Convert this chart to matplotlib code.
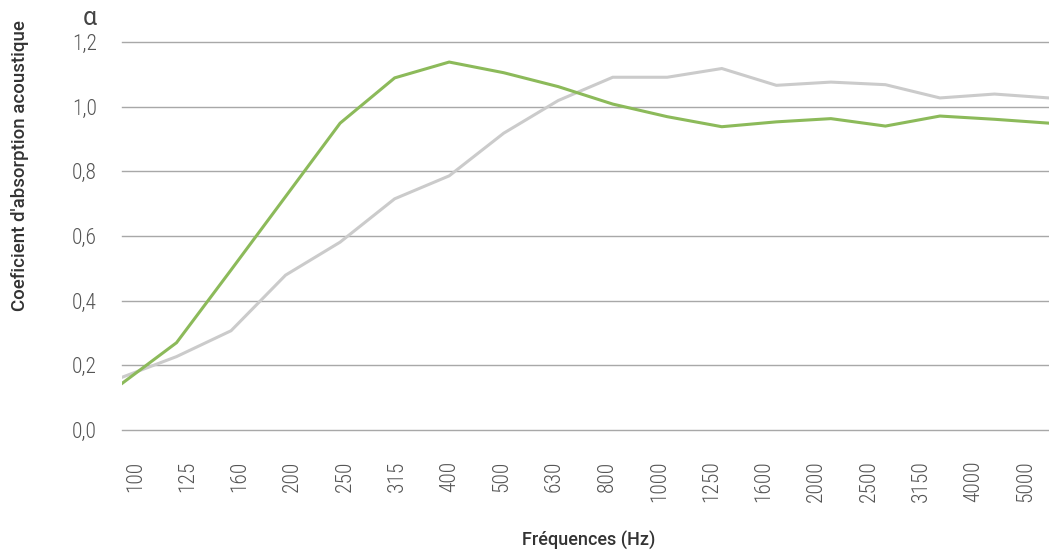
import matplotlib
matplotlib.use("Agg")
import matplotlib.pyplot as plt

# third-octave bands (Hz)
freqs = ["100", "125", "160", "200", "250", "315", "400", "500", "630", "800",
         "1000", "1250", "1600", "2000", "2500", "3150", "4000", "5000"]

green_alpha = [0.144, 0.270, 0.495, 0.722, 0.949, 1.089, 1.138, 1.105, 1.062,
               1.008, 0.969, 0.938, 0.953, 0.963, 0.940, 0.971, 0.961, 0.949]
grey_alpha = [0.163, 0.227, 0.307, 0.479, 0.581, 0.715, 0.786, 0.918, 1.019,
              1.091, 1.091, 1.118, 1.066, 1.076, 1.068, 1.027, 1.039, 1.027]

yticks = [0.0, 0.2, 0.4, 0.6, 0.8, 1.0, 1.2]

W, H = 1049, 557
fig = plt.figure(figsize=(W / 100, H / 100), dpi=100)
ax = fig.add_axes([122 / W, 1 - 430 / H, (1049 - 122) / W, (430 - 42) / H])

narrow = ["Roboto Condensed", "Roboto", "DejaVu Sans"]

x = list(range(len(freqs)))
ax.plot(x, grey_alpha, color="#cbcbcb", lw=2.2, solid_joinstyle="miter")
ax.plot(x, green_alpha, color="#8cba5a", lw=2.2, solid_joinstyle="miter")

ax.set_xlim(0, len(freqs) - 1)
ax.set_ylim(0, 1.2)

ax.set_yticks(yticks)
ax.set_yticklabels([f"{v:.1f}".replace(".", ",") for v in yticks],
                   fontfamily=narrow, fontweight="light", fontsize=15.5,
                   color="#555555")
ax.grid(axis="y", color="#a8a8a8", lw=1.0)
for gl in ax.get_ygridlines():
    gl.set_clip_on(False)
ax.set_axisbelow(True)

# labels sit on their own evenly spaced slots, not on the line vertices
n = len(freqs)
span = n - 1
step = 52.4 / 927 * span
first = 13.3 / 927 * span
ax.set_xticks([first + i * step for i in range(n)])
ax.set_xticklabels(freqs, rotation=90, fontfamily=narrow, fontweight="light",
                   fontsize=15.5, color="#555555", va="top")

ax.tick_params(axis="both", length=0)
ax.tick_params(axis="y", pad=18)
ax.tick_params(axis="x", pad=22)
for s in ax.spines.values():
    s.set_visible(False)

fig.text(97 / W, 1 - 18 / H, "α", ha="right", va="center", fontsize=18,
         fontfamily="Roboto", color="#444444")
fig.text(20 / W, 1 - 166 / H, "Coeficient d'absorption acoustique",
         rotation=90, ha="center", va="center", fontsize=13.4,
         fontfamily="Roboto", fontweight="medium", color="#333333")
fig.text(589 / W, 1 - 540 / H, "Fréquences (Hz)", ha="center", va="center",
         fontsize=13, fontfamily="Roboto", fontweight="medium",
         color="#333333")

fig.savefig("out.png", dpi=100)
